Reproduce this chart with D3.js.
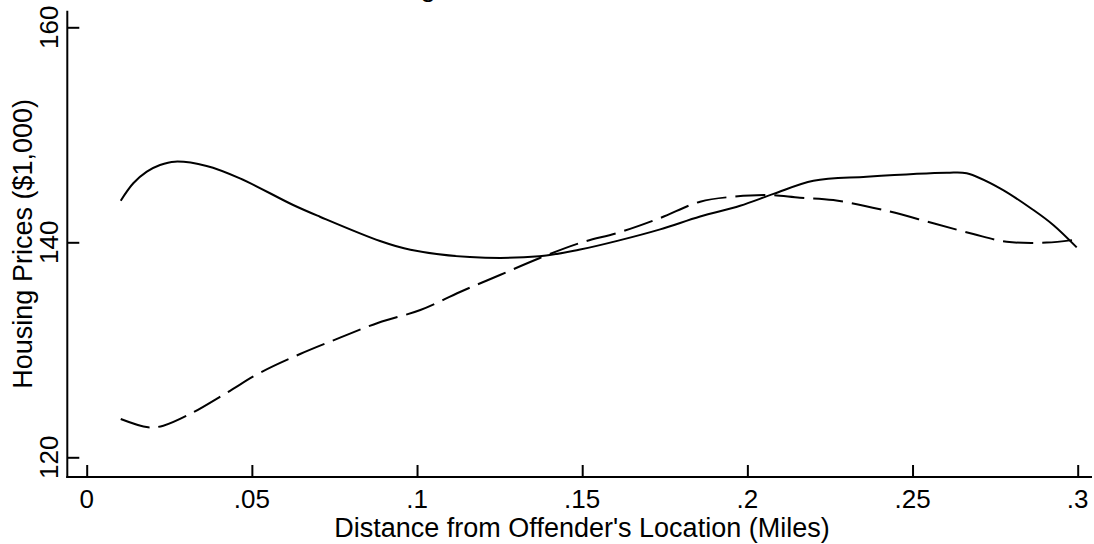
<!DOCTYPE html>
<html>
<head>
<meta charset="utf-8">
<script src="https://cdn.jsdelivr.net/npm/d3@7"></script>
<style>
  html, body { margin: 0; padding: 0; background: #fff; }
  svg { display: block; }
  text { font-family: "Liberation Sans", Arial, sans-serif; fill: #000; }
</style>
</head>
<body>
<svg id="chart" width="1094" height="544"></svg>
<script>
// ---- data ----
const xTicks = [0, 0.05, 0.1, 0.15, 0.2, 0.25, 0.3];
const xTickLabels = ["0", ".05", ".1", ".15", ".2", ".25", ".3"];
const yTicks = [120, 140, 160];
const yTickLabels = ["120", "140", "160"];

const solidX = [0.0103, 0.0141, 0.0182, 0.0222, 0.0267, 0.0363, 0.0464, 0.0625, 0.0706, 0.0888,
                0.098, 0.116, 0.137, 0.149, 0.1615, 0.1736, 0.1857, 0.1978, 0.2079, 0.22,
                0.2361, 0.2604, 0.2664, 0.2765, 0.2866, 0.2926, 0.2997];
const solidY = [143.87, 145.49, 146.57, 147.19, 147.50, 147.10, 145.95, 143.47, 142.38, 140.12,
                139.3, 138.63, 138.7, 139.3, 140.2, 141.2, 142.4, 143.4, 144.5, 145.73,
                146.10, 146.47, 146.42, 145.02, 143.0, 141.61, 139.53];

const dashX = [0.0103, 0.0186, 0.0232, 0.0313, 0.0424, 0.0525, 0.0646, 0.0767, 0.0883, 0.101,
               0.113, 0.1251, 0.1372, 0.1493, 0.1615, 0.1736, 0.1857, 0.1957, 0.2058, 0.2159,
               0.226, 0.2412, 0.2563, 0.2684, 0.2785, 0.2906, 0.3002];
const dashY = [123.56, 122.79, 122.94, 124.03, 126.01, 127.87, 129.61, 131.13, 132.52, 133.7,
               135.38, 136.96, 138.54, 139.93, 140.95, 142.26, 143.78, 144.24, 144.40, 144.15,
               143.93, 143.0, 141.77, 140.77, 140.06, 139.97, 140.28];

const xTitle = "Distance from Offender's Location (Miles)";
const yTitle = "Housing Prices ($1,000)";
const titleFragment = "g";

// ---- layout ----
const svg = d3.select("#chart");
svg.append("rect").attr("width", 1094).attr("height", 544).attr("fill", "#fff");

const x = d3.scaleLinear().domain([0, 0.3]).range([86.7, 1077.7]);
const y = d3.scaleLinear().domain([120, 160]).range([457.3, 27.3]);

const plotLeft = 67.3, plotRight = 1092, plotTop = 10.7, plotBottom = 477;

// partially visible title (cut by the top edge)
svg.append("text").attr("x", 428).attr("y", -4)
  .attr("text-anchor", "middle").attr("font-size", 28).text(titleFragment);

// axis lines
svg.append("line").attr("x1", plotLeft).attr("x2", plotLeft)
  .attr("y1", plotTop).attr("y2", plotBottom + 1)
  .attr("stroke", "#000").attr("stroke-width", 2);
svg.append("line").attr("x1", plotLeft - 1).attr("x2", plotRight)
  .attr("y1", plotBottom).attr("y2", plotBottom)
  .attr("stroke", "#000").attr("stroke-width", 2);

// y axis (ticks pointing inward)
const yAxis = d3.axisLeft(y).tickValues(yTicks).tickSize(-12).tickFormat("");
const gy = svg.append("g").attr("transform", `translate(${plotLeft},0)`).call(yAxis);
gy.select(".domain").remove();
gy.selectAll(".tick line").attr("stroke", "#000").attr("stroke-width", 2);
svg.selectAll(".ylab").data(yTicks).enter().append("text")
  .attr("class", "ylab")
  .attr("transform", d => `translate(58,${y(d)}) rotate(-90)`)
  .attr("text-anchor", "middle").attr("font-size", 26)
  .text((d, i) => yTickLabels[i]);

// x axis (ticks pointing inward)
const xAxis = d3.axisBottom(x).tickValues(xTicks).tickSize(-12).tickFormat("");
const gx = svg.append("g").attr("transform", `translate(0,${plotBottom})`).call(xAxis);
gx.select(".domain").remove();
gx.selectAll(".tick line").attr("stroke", "#000").attr("stroke-width", 2);
svg.selectAll(".xlab").data(xTicks).enter().append("text")
  .attr("class", "xlab")
  .attr("x", d => x(d)).attr("y", 508)
  .attr("text-anchor", "middle").attr("font-size", 26)
  .text((d, i) => xTickLabels[i]);

// axis titles
svg.append("text").attr("x", 582).attr("y", 537)
  .attr("text-anchor", "middle").attr("font-size", 27).text(xTitle);
svg.append("text")
  .attr("transform", `translate(32,${(plotTop + plotBottom) / 2}) rotate(-90)`)
  .attr("text-anchor", "middle").attr("font-size", 27).text(yTitle);

// curves
const line = d3.line().x(d => x(d[0])).y(d => y(d[1])).curve(d3.curveCatmullRom.alpha(0.5));
const solid = solidX.map((v, i) => [v, solidY[i]]);
const dashed = dashX.map((v, i) => [v, dashY[i]]);

svg.append("path").datum(dashed).attr("d", line)
  .attr("fill", "none").attr("stroke", "#000").attr("stroke-width", 2)
  .attr("stroke-dasharray", "30,9");
svg.append("path").datum(solid).attr("d", line)
  .attr("fill", "none").attr("stroke", "#000").attr("stroke-width", 2);
</script>
</body>
</html>
